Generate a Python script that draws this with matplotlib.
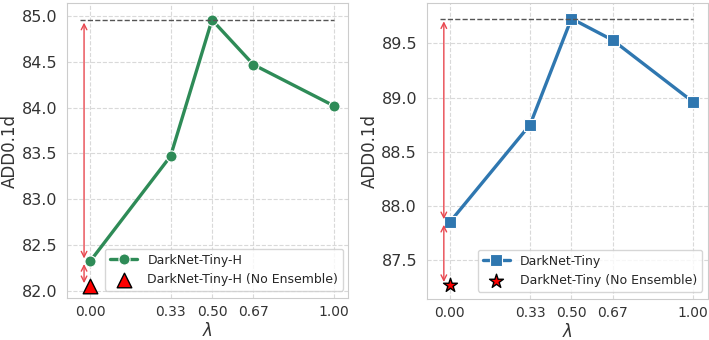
import numpy as np
import matplotlib
matplotlib.use("Agg")
import matplotlib.pyplot as plt
import seaborn as sns

sns.set_style("whitegrid", {"grid.linestyle": "--", "grid.color": ".85"})
plt.rcParams['font.family'] = ['DejaVu Sans']

lam = [0.0, 0.33, 0.5, 0.67, 1.0]
lam_labels = ["0.00", "0.33", "0.50", "0.67", "1.00"]

tiny_h = [82.32, 83.47, 84.96, 84.47, 84.02]
tiny_h_noens = 82.05
tiny = [87.85, 88.75, 89.73, 89.53, 88.96]
tiny_noens = 87.27

fig = plt.figure(figsize=(7.09, 3.4), dpi=100)
ax1 = fig.add_axes([0.0945, 0.124, 0.397, 0.866])
ax2 = fig.add_axes([0.602, 0.121, 0.396, 0.869])

arrow_col = '#e8474f'


def panel(ax, vals, noens, color, marker, mk_noens, ms_noens, label, ylim, yticks):
    ax.plot(lam, vals, color=color, marker=marker, lw=2.4, ms=8, mec='white',
            mew=0.8, label=label)
    ax.scatter([0.0], [noens], marker=mk_noens, s=ms_noens, color='red',
               edgecolor='black', zorder=5, label=label + " (No Ensemble)")
    best = max(vals)
    ax.hlines(best, -0.04, 1.0, colors='#555555', linestyles='--', lw=1)
    ax.annotate('', xy=(-0.025, vals[0]), xytext=(-0.025, best),
                arrowprops=dict(arrowstyle='<->', color=arrow_col, lw=1))
    ax.annotate('', xy=(-0.025, noens), xytext=(-0.025, vals[0]),
                arrowprops=dict(arrowstyle='<->', color=arrow_col, lw=1))
    ax.set_xlim(-0.095, 1.06)
    ax.set_ylim(*ylim)
    ax.set_xticks(lam)
    ax.set_xticklabels(lam_labels, fontsize=10, color='#333333')
    ax.tick_params(axis='x', pad=2)
    ax.set_yticks(yticks)
    ax.set_yticklabels(["%.1f" % t for t in yticks], fontsize=11.5, color='#333333')
    ax.set_xlabel(r'$\lambda$', fontsize=12, color='#333333', labelpad=2)
    ax.set_ylabel('ADD0.1d', fontsize=12, color='#333333', labelpad=2)
    ax.legend(loc='lower right', bbox_to_anchor=(0.99, 0.015), fontsize=9,
              frameon=True, handlelength=2.2, borderaxespad=0.2)


panel(ax1, tiny_h, tiny_h_noens, '#2e8b57', 'o', '^', 110, 'DarkNet-Tiny-H',
      (81.92, 85.14), [82.0, 82.5, 83.0, 83.5, 84.0, 84.5, 85.0])
panel(ax2, tiny, tiny_noens, '#2f77b0', 's', '*', 110, 'DarkNet-Tiny',
      (87.14, 89.87), [87.5, 88.0, 88.5, 89.0, 89.5])

fig.savefig("out.png", dpi=100)
